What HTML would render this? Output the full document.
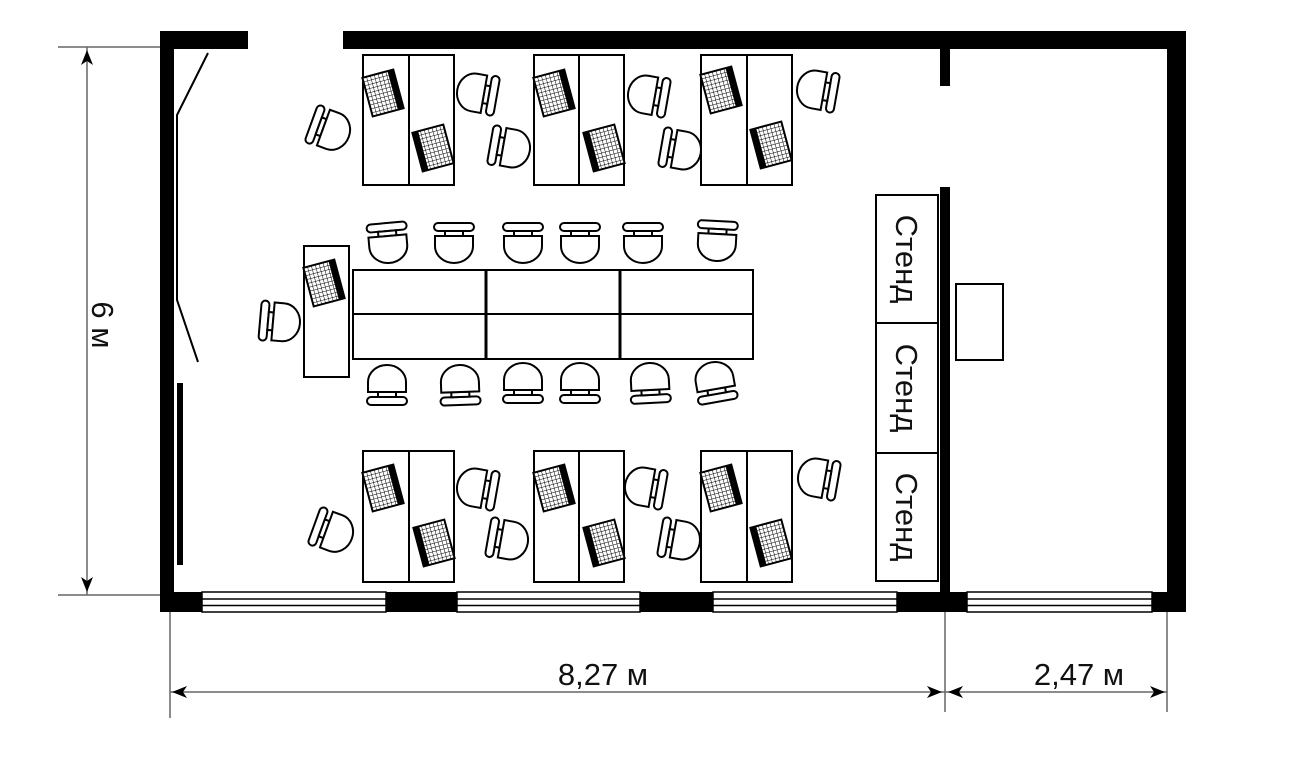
<!DOCTYPE html>
<html><head><meta charset="utf-8"><style>html,body{margin:0;padding:0;background:#fff}svg{display:block}</style></head>
<body>
<svg width="1300" height="758" viewBox="0 0 1300 758" xmlns="http://www.w3.org/2000/svg">
<defs>
<pattern id="grid" width="4" height="4" patternUnits="userSpaceOnUse">
<rect width="4" height="4" fill="#fff"/><path d="M0 0H4M0 0V4" stroke="#000" stroke-width="1"/>
</pattern>
<g id="chair" fill="#fff" stroke="#000" stroke-width="2">
<rect x="-20" y="-20" width="40" height="8" rx="4"/>
<rect x="-9" y="-12" width="18" height="5"/>
<path d="M-19,-7 H19 V3 A19,17 0 0 1 -19,3 Z"/>
</g>
<g id="monA">
<rect x="-16" y="-20" width="32" height="40" fill="url(#grid)" stroke="#000" stroke-width="2"/>
<rect x="10" y="-20" width="6" height="40" fill="#000"/>
</g>
<g id="monB">
<rect x="-16" y="-20" width="32" height="40" fill="url(#grid)" stroke="#000" stroke-width="2"/>
<rect x="-16" y="-20" width="6" height="40" fill="#000"/>
</g>
</defs>

<g fill="#000">
<rect x="160" y="31" width="88" height="18"/>
<rect x="343" y="31" width="843" height="18"/>
<rect x="160" y="31" width="14" height="581"/>
<rect x="1167" y="31" width="19" height="581"/>
<rect x="160" y="592" width="1026" height="20"/>
<rect x="940" y="49" width="10" height="37"/>
<rect x="940" y="187" width="10" height="410"/>
<rect x="177" y="383" width="6" height="182"/>
</g>
<g fill="#fff" stroke="#000" stroke-width="1.5">
<rect x="202" y="592" width="184" height="20"/>
<rect x="457" y="592" width="183" height="20"/>
<rect x="713" y="592" width="184" height="20"/>
<rect x="967" y="592" width="185" height="20"/>
<path d="M202 599H386M202 605.5H386M457 599H640M457 605.5H640M713 599H897M713 605.5H897M967 599H1152M967 605.5H1152"/>
</g>
<polyline points="208,53 177,115 177,300 198,362" fill="none" stroke="#000" stroke-width="2"/>

<g stroke="#666" stroke-width="1.5" fill="none">
<path d="M58 47H160M58 595H160M87 47V595"/>
<path d="M170 612V718M945 612V712M1167 612V712M170 692H1167"/>
</g>
<g fill="#000">
<path d="M87 50 L81 65 L87 61 L93 65Z"/>
<path d="M87 592 L81 577 L87 581 L93 577Z"/>
<path d="M172 692 L187 686 L183 692 L187 698Z"/>
<path d="M942 692 L927 686 L931 692 L927 698Z"/>
<path d="M948 692 L963 686 L959 692 L963 698Z"/>
<path d="M1165 692 L1150 686 L1154 692 L1150 698Z"/>
</g>
<g font-family="Liberation Sans, DejaVu Sans, sans-serif" font-size="31" fill="#111">
<text x="603" y="685" text-anchor="middle">8,27 м</text>
<text x="1079" y="685" text-anchor="middle">2,47 м</text>
<text transform="translate(92,325) rotate(90)" text-anchor="middle">6 м</text>
</g>

<g fill="#fff" stroke="#000" stroke-width="2">
<rect x="876" y="195" width="62" height="128"/>
<rect x="876" y="323" width="62" height="130"/>
<rect x="876" y="453" width="62" height="128"/>
<rect x="956" y="284" width="47" height="76"/>
</g>
<g font-family="Liberation Sans, DejaVu Sans, sans-serif" font-size="31" fill="#111" text-anchor="middle">
<text transform="translate(896,259) rotate(90)">Стенд</text>
<text transform="translate(896,388) rotate(90)">Стенд</text>
<text transform="translate(896,517) rotate(90)">Стенд</text>
</g>

<g fill="#fff" stroke="#000" stroke-width="2">
<rect x="363" y="55" width="91" height="130"/><path d="M409 55V185"/>
<rect x="534" y="55" width="90" height="130"/><path d="M579 55V185"/>
<rect x="701" y="55" width="91" height="130"/><path d="M747 55V185"/>
<rect x="363" y="451" width="91" height="131"/><path d="M409 451V582"/>
<rect x="534" y="451" width="90" height="131"/><path d="M579 451V582"/>
<rect x="701" y="451" width="91" height="131"/><path d="M747 451V582"/>
<rect x="304" y="246" width="45" height="131"/>
<rect x="353" y="270" width="400" height="89"/>
<path d="M353 314H753" /><path d="M486 270V359M620 270V359" stroke-width="3"/>
</g>

<use href="#monA" transform="translate(383,93) rotate(-15)"/>
<use href="#monB" transform="translate(433,148) rotate(-15)"/>
<use href="#monA" transform="translate(554,93) rotate(-15)"/>
<use href="#monB" transform="translate(604,148) rotate(-15)"/>
<use href="#monA" transform="translate(721,90) rotate(-15)"/>
<use href="#monB" transform="translate(771,145) rotate(-15)"/>
<use href="#monA" transform="translate(383,488) rotate(-15)"/>
<use href="#monB" transform="translate(434,543) rotate(-15)"/>
<use href="#monA" transform="translate(554,488) rotate(-15)"/>
<use href="#monB" transform="translate(604,543) rotate(-15)"/>
<use href="#monA" transform="translate(721,488) rotate(-15)"/>
<use href="#monB" transform="translate(771,543) rotate(-15)"/>
<use href="#monA" transform="translate(324,283) rotate(-15)"/>

<use href="#chair" transform="translate(330,130) rotate(-70)"/>
<use href="#chair" transform="translate(477,93) rotate(100)"/>
<use href="#chair" transform="translate(510,148) rotate(-80)"/>
<use href="#chair" transform="translate(648,95) rotate(100)"/>
<use href="#chair" transform="translate(681,150) rotate(-80)"/>
<use href="#chair" transform="translate(817,90) rotate(100)"/>

<use href="#chair" transform="translate(333,532) rotate(-70)"/>
<use href="#chair" transform="translate(477,488) rotate(100)"/>
<use href="#chair" transform="translate(508,540) rotate(-80)"/>
<use href="#chair" transform="translate(645,487) rotate(100)"/>
<use href="#chair" transform="translate(680,540) rotate(-80)"/>
<use href="#chair" transform="translate(818,478) rotate(100)"/>

<use href="#chair" transform="translate(280,322) rotate(-85)"/>

<use href="#chair" transform="translate(388,243) rotate(-5)"/>
<use href="#chair" transform="translate(454,243)"/>
<use href="#chair" transform="translate(523,243)"/>
<use href="#chair" transform="translate(580,243)"/>
<use href="#chair" transform="translate(643,243)"/>
<use href="#chair" transform="translate(717,241) rotate(3)"/>

<use href="#chair" transform="translate(387,385) rotate(180)"/>
<use href="#chair" transform="translate(460,385) rotate(178)"/>
<use href="#chair" transform="translate(523,383) rotate(180)"/>
<use href="#chair" transform="translate(580,383) rotate(180)"/>
<use href="#chair" transform="translate(650,383) rotate(177)"/>
<use href="#chair" transform="translate(715,382) rotate(170)"/>
</svg>
</body></html>
